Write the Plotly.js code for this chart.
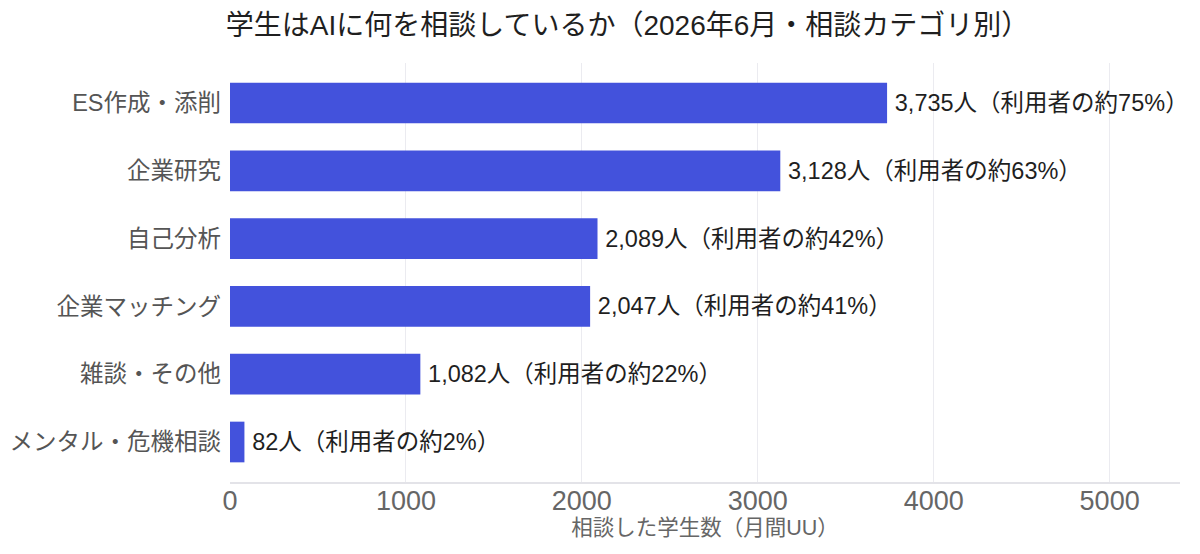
<!DOCTYPE html>
<html>
<head>
<meta charset="utf-8">
<script src="https://cdn.plot.ly/plotly-3.0.1.min.js"></script>
<style>
  html, body { margin: 0; padding: 0; background: #ffffff; }
  #chart { width: 1200px; height: 554px; }
</style>
</head>
<body>
<div id="chart"></div>
<script>
// 相談カテゴリ別の月間UU（上から順に表示）
const categories = ['ES作成・添削', '企業研究', '自己分析', '企業マッチング', '雑談・その他', 'メンタル・危機相談'];
const users = [3735, 3128, 2089, 2047, 1082, 82];
const sharePct = [75, 63, 42, 41, 22, 2];

// 棒の右側に出す値ラベル
const labels = users.map((v, i) => '\u2009' + v.toLocaleString('en-US') + '人（利用者の約' + sharePct[i] + '%）');

const FONT = '"Liberation Sans", "Noto Sans CJK JP", sans-serif';

const trace = {
  type: 'bar',
  orientation: 'h',
  x: users,
  y: categories,
  width: 0.6,
  marker: { color: '#4352DC' },
  text: labels,
  textposition: 'outside',
  cliponaxis: false,
  textfont: { family: FONT, size: 23.5, color: '#1f1f1f' },
  hoverinfo: 'skip'
};

const layout = {
  width: 1200,
  height: 554,
  margin: { l: 230, r: 20, t: 63, b: 72 },
  paper_bgcolor: '#ffffff',
  plot_bgcolor: '#ffffff',
  font: { family: FONT, color: '#666666' },
  title: {
    text: '学生はAIに何を相談しているか（2026年6月・相談カテゴリ別）',
    font: { family: FONT, size: 28, color: '#1f1f1f' },
    x: 0.523, xanchor: 'center',
    y: 0.955, yanchor: 'middle'
  },
  bargap: 0.4,
  xaxis: {
    range: [0, 5400],
    tickvals: [0, 1000, 2000, 3000, 4000, 5000],
    ticktext: ['0', '1000', '2000', '3000', '4000', '5000'],
    tickfont: { family: FONT, size: 27, color: '#666666' },
    ticklabelstandoff: -6,
    showgrid: true,
    gridcolor: '#ebebf0',
    gridwidth: 1,
    zeroline: false,
    showline: true,
    linecolor: '#e3e3e8',
    linewidth: 2,
    ticks: '',
    ticklen: 0,
    title: {
      text: '相談した学生数（月間UU）',
      font: { family: FONT, size: 21.5, color: '#666666' },
      standoff: 2
    }
  },
  yaxis: {
    type: 'category',
    categoryorder: 'array',
    categoryarray: categories.slice().reverse(),
    range: [-0.59, 5.59],
    tickfont: { family: FONT, size: 23.5, color: '#555555' },
    showgrid: false,
    zeroline: false,
    showline: false,
    ticks: '',
    ticklen: 0,
    ticklabelstandoff: 8
  },
  showlegend: false
};

Plotly.newPlot('chart', [trace], layout, { displayModeBar: false, staticPlot: true });
</script>
</body>
</html>
